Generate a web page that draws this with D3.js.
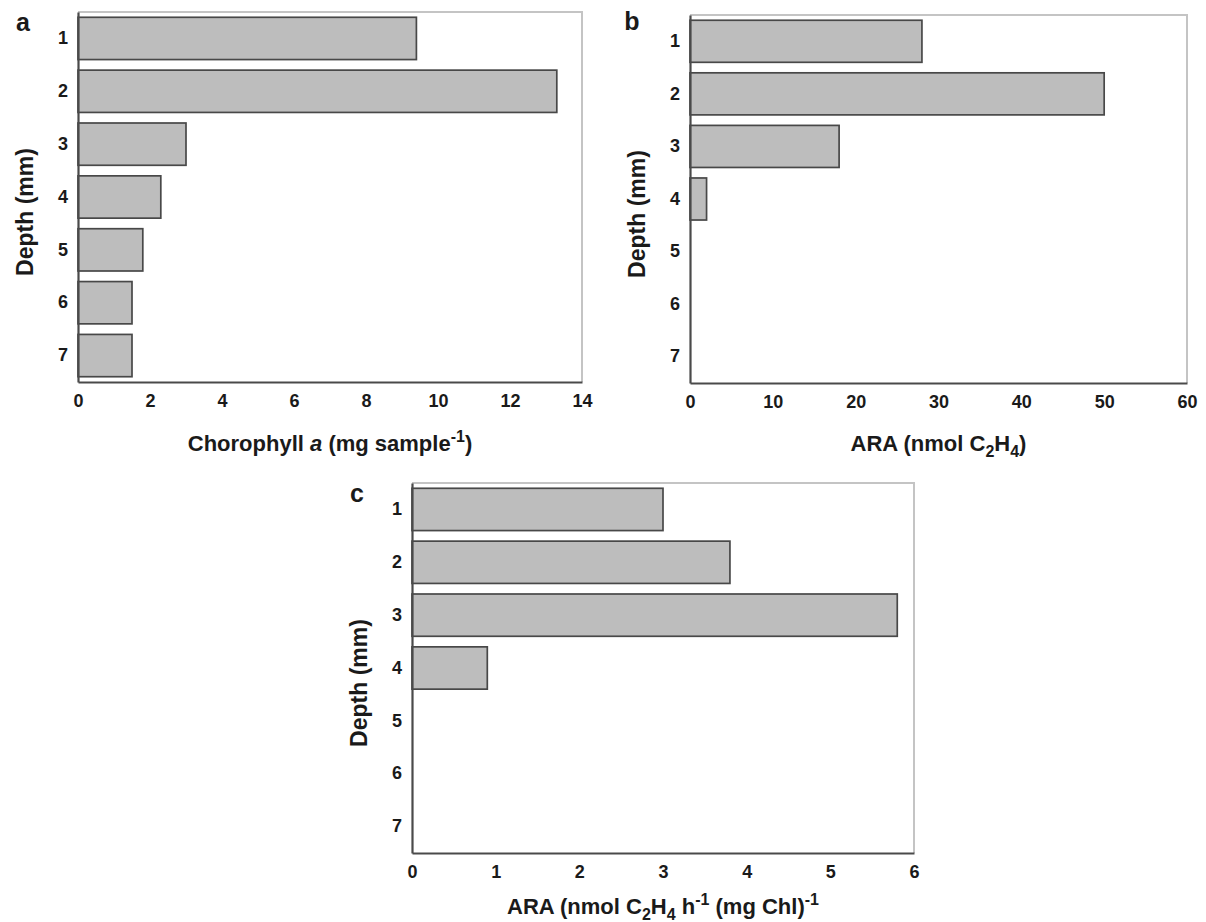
<!DOCTYPE html>
<html>
	<head>
		<script type="text/javascript" src="https://cdn.jsdelivr.net/npm/d3@7/dist/d3.min.js"></script>
	</head>
	<style>
	  body { margin: 0; background: #fff; }
	  svg { font-family: "Liberation Sans", Arial, sans-serif; font-weight: bold; }
	</style>
	<body>
	  <svg id="chart" width="1206" height="922"></svg>
	  <script type="text/javascript">
	    var depths = ["1", "2", "3", "4", "5", "6", "7"];
	    var chlValues = [9.4, 13.3, 3.0, 2.3, 1.8, 1.5, 1.5];
	    var araValues = [28, 50, 18, 2, 0, 0, 0];
	    var araPerChl = [3.0, 3.8, 5.8, 0.9, 0, 0, 0];
	    var chlTicks = [0, 2, 4, 6, 8, 10, 12, 14];
	    var araTicks = [0, 10, 20, 30, 40, 50, 60];
	    var perChlTicks = [0, 1, 2, 3, 4, 5, 6];

	    var svg = d3.select("#chart");

	    var panels = [
	      {letter: "a", values: chlValues, ticks: chlTicks, max: 14, x0: 78, x1: 582, y0: 12, y1: 382, lx: 23, ly: 31, ty: 69,
	       title: [["Chorophyll ", 0, null], ["a", 0, "italic"], [" (mg sample", 0, null], ["-1", -1, null], [")", 0, null]]},
	      {letter: "b", values: araValues, ticks: araTicks, max: 60, x0: 690, x1: 1187, y0: 15, y1: 383, lx: 632, ly: 30, ty: 68,
	       title: [["ARA (nmol C", 0, null], ["2", 1, null], ["H", 0, null], ["4", 1, null], [")", 0, null]]},
	      {letter: "c", values: araPerChl, ticks: perChlTicks, max: 6, x0: 412, x1: 914, y0: 483, y1: 853, lx: 357, ly: 502, ty: 61,
	       title: [["ARA (nmol C", 0, null], ["2", 1, null], ["H", 0, null], ["4", 1, null], [" h", 0, null], ["-1", -1, null],
	               [" (mg Chl)", 0, null], ["-1", -1, null]]}
	    ];

	    panels.forEach(function(p){
	      var x = d3.scaleLinear().domain([0, p.max]).range([p.x0, p.x1]);
	      var y = d3.scaleBand().domain(depths).range([p.y0, p.y1]).paddingInner(0.2).paddingOuter(0.1);
	      var g = svg.append("g");

	      // light frame on top and right
	      g.append("path").attr("d", "M" + p.x0 + "," + p.y0 + "H" + p.x1 + "V" + p.y1)
	        .attr("fill", "none").attr("stroke", "#c4c4c4").attr("stroke-width", 2);

	      var rows = depths.map(function(d, i){ return {depth: d, value: p.values[i]}; }).filter(function(d){ return d.value > 0; });
	      g.selectAll("rect").data(rows).enter().append("rect")
	        .attr("x", x(0))
	        .attr("y", function(d){ return y(d.depth); })
	        .attr("width", function(d){ return x(d.value) - x(0); })
	        .attr("height", y.bandwidth())
	        .attr("fill", "#bdbdbd")
	        .attr("stroke", "#484848")
	        .attr("stroke-width", 1.7);

	      var xAxis = g.append("g").attr("transform", "translate(0," + p.y1 + ")")
	        .call(d3.axisBottom(x).tickValues(p.ticks).tickSize(0).tickPadding(12).tickFormat(d3.format("d")));
	      var yAxis = g.append("g").attr("transform", "translate(" + p.x0 + ",0)")
	        .call(d3.axisLeft(y).tickSize(0).tickPadding(10));
	      [xAxis, yAxis].forEach(function(a){
	        a.select(".domain").attr("stroke", "#4a4a4a").attr("stroke-width", 2.2);
	        a.selectAll("text").attr("font-size", 18).attr("font-family", "Liberation Sans, Arial, sans-serif")
	          .attr("font-weight", "bold").attr("fill", "#1a1a1a");
	      });

	      g.append("text").attr("x", p.lx).attr("y", p.ly).attr("text-anchor", "middle")
	        .attr("font-size", 25).attr("fill", "#1a1a1a").text(p.letter);

	      g.append("text")
	        .attr("transform", "translate(" + (p.x0 - 45) + "," + ((p.y0 + p.y1) / 2 + 15) + ") rotate(-90)")
	        .attr("text-anchor", "middle").attr("font-size", 23).attr("fill", "#1a1a1a").text("Depth (mm)");

	      var t = g.append("text").attr("x", (p.x0 + p.x1) / 2).attr("y", p.y1 + p.ty)
	        .attr("text-anchor", "middle").attr("font-size", 22).attr("fill", "#1a1a1a");
	      var shift = 0;
	      p.title.forEach(function(s){
	        var dy = 0, size = null;
	        if (s[1] === 1) { dy = 6; size = 16; }
	        if (s[1] === -1) { dy = -9; size = 16; }
	        var span = t.append("tspan").attr("dy", dy - shift).text(s[0]);
	        if (size) span.attr("font-size", size);
	        if (s[2]) span.attr("font-style", s[2]);
	        shift = dy;
	      });
	    });
	  </script>
	</body>
</html>
